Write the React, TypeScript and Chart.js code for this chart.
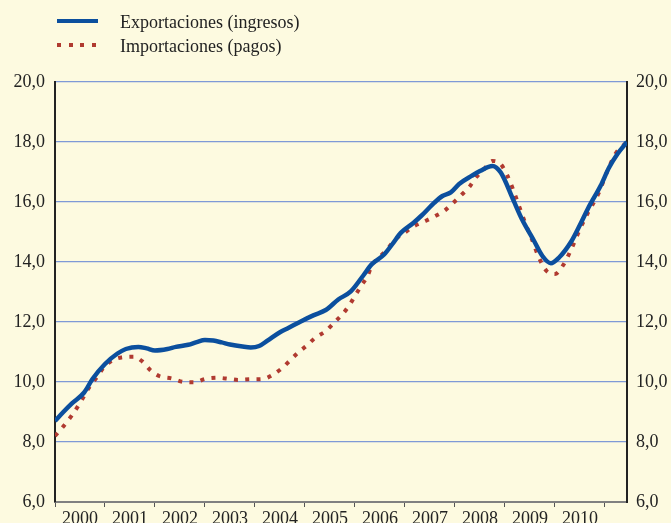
import React, { useEffect, useRef } from "react";
import { Chart, registerables } from "chart.js";

Chart.register(...registerables);

const yearLabels = ["2000", "2001", "2002", "2003", "2004", "2005", "2006", "2007", "2008", "2009", "2010"];
const yTicks = [6, 8, 10, 12, 14, 16, 18, 20];

// months since Jan 2000
const exportMonths = [0, 2, 4, 7, 9, 12, 15, 17, 20, 22, 24, 27, 29, 32, 34, 36, 38, 40, 42, 45, 47, 49, 51, 54, 56, 59, 62, 65, 68, 71, 74, 76, 79, 81, 83, 86, 88, 91, 93, 95, 97, 100, 102, 105, 107, 110, 112, 115, 117, 119, 121, 124, 126, 128, 131, 133, 135, 137.3];
const exportValues = [8.7, 9.0, 9.28, 9.65, 10.1, 10.6, 10.95, 11.1, 11.17, 11.12, 11.05, 11.1, 11.17, 11.24, 11.33, 11.4, 11.38, 11.32, 11.25, 11.18, 11.15, 11.2, 11.38, 11.66, 11.8, 12.02, 12.22, 12.4, 12.75, 13.02, 13.55, 13.92, 14.25, 14.6, 14.97, 15.3, 15.55, 15.97, 16.2, 16.32, 16.6, 16.87, 17.03, 17.2, 16.98, 16.07, 15.45, 14.7, 14.2, 13.96, 14.15, 14.7, 15.23, 15.8, 16.55, 17.15, 17.6, 18.0];

const importMonths = [0, 2, 4, 6, 8, 10, 11.5, 13.5, 16, 19, 21, 23, 25, 28, 31, 33.5, 36, 39, 42, 44, 47, 50, 52, 54.5, 56.5, 58.5, 60.5, 62.5, 65, 67, 69, 70.5, 72, 73.5, 75, 76, 78, 80, 81.5, 84, 86, 88.5, 91, 93.5, 95.5, 97.5, 99.5, 101, 103, 105, 107, 108.5, 110, 111.5, 113, 114.5, 116, 118, 120, 122, 124, 126, 128, 130.5, 132.5, 134.5, 137.3];
const importValues = [8.2, 8.52, 8.88, 9.3, 9.78, 10.15, 10.45, 10.7, 10.82, 10.84, 10.68, 10.38, 10.2, 10.12, 10.0, 9.99, 10.1, 10.14, 10.1, 10.07, 10.09, 10.1, 10.22, 10.46, 10.73, 11.0, 11.22, 11.48, 11.7, 11.98, 12.26, 12.53, 12.87, 13.21, 13.53, 13.87, 14.18, 14.46, 14.73, 14.98, 15.18, 15.34, 15.51, 15.71, 15.96, 16.23, 16.51, 16.81, 17.1, 17.37, 17.26, 16.9, 16.4, 15.82, 15.25, 14.75, 14.2, 13.7, 13.6, 13.9, 14.45, 15.1, 15.66, 16.3, 17.0, 17.6, 18.0];

const seriesNames = ["Exportaciones (ingresos)", "Importaciones (pagos)"];

const BG = "#fdfae0";
const BLUE = "#0b4f9e";
const RED = "#b03a30";
const FONT = "'Liberation Serif', 'Times New Roman', serif";

export default function App() {
  const canvasRef = useRef<HTMLCanvasElement | null>(null);

  useEffect(() => {
    if (!canvasRef.current) return;
    const fontSpec = { family: FONT, size: 18 };
    const fmt = (v: any) => Number(v).toFixed(1).replace(".", ",");
    const chart = new Chart(canvasRef.current, {
      type: "line",
      data: {
        datasets: [
          {
            label: seriesNames[0],
            data: exportMonths.map((m, i) => ({ x: m, y: exportValues[i] })),
            borderColor: BLUE,
            borderWidth: 4.5,
            pointRadius: 0,
            cubicInterpolationMode: "monotone",
            fill: false,
          },
          {
            label: seriesNames[1],
            data: importMonths.map((m, i) => ({ x: m, y: importValues[i] })),
            borderColor: RED,
            borderWidth: 4,
            borderDash: [4, 7.3],
            borderCapStyle: "butt",
            pointRadius: 0,
            cubicInterpolationMode: "monotone",
            fill: false,
          },
        ],
      },
      options: {
        responsive: false,
        animation: false,
        layout: { padding: { top: 82, left: 0, right: 0, bottom: 0 } },
        plugins: { legend: { display: false }, tooltip: { enabled: false } },
        scales: {
          x: {
            type: "linear",
            min: 0,
            max: 137.3,
            afterBuildTicks: (s: any) => {
              const t = yearLabels.map((_, i) => ({ value: i * 12 }));
              t.push({ value: 132 });
              s.ticks = t;
            },
            afterFit: (s: any) => {
              s.height = 21;
            },
            ticks: {
              autoSkip: false,
              maxRotation: 0,
              minRotation: 0,
              labelOffset: 25,
              padding: 1,
              color: "#222",
              font: fontSpec,
              callback: (v: any) => yearLabels[Math.round(Number(v) / 12)] ?? "",
            },
            grid: { drawOnChartArea: false, drawTicks: true, tickLength: 5, color: "#555", lineWidth: 1 },
            border: { display: true, color: "#808080", width: 2 },
          },
          y: {
            position: "left",
            min: 6,
            max: 20,
            afterBuildTicks: (s: any) => {
              s.ticks = yTicks.map((v) => ({ value: v }));
            },
            afterFit: (s: any) => {
              s.width = 55;
            },
            ticks: { padding: 10, color: "#222", font: fontSpec, callback: fmt },
            grid: { color: "#7f99d6", lineWidth: 1.2, drawTicks: false },
            border: { display: true, color: "#222", width: 2 },
          },
          y2: {
            position: "right",
            min: 6,
            max: 20,
            afterBuildTicks: (s: any) => {
              s.ticks = yTicks.map((v) => ({ value: v }));
            },
            afterFit: (s: any) => {
              s.width = 44;
            },
            ticks: { padding: 9, color: "#222", font: fontSpec, callback: fmt },
            grid: { display: false, drawTicks: false },
            border: { display: true, color: "#222", width: 2 },
          },
        },
      },
    } as any);
    return () => chart.destroy();
  }, []);

  const textStyle: React.CSSProperties = {
    position: "absolute",
    left: 120,
    fontFamily: FONT,
    fontSize: 18,
    lineHeight: "20px",
    color: "#222",
    whiteSpace: "nowrap",
  };

  return (
    <div style={{ position: "absolute", left: 0, top: 0, width: 671, height: 523, background: BG, overflow: "hidden" }}>
      <canvas ref={canvasRef} width={671} height={523} style={{ position: "absolute", left: 0, top: 0, width: 671, height: 523 }} />
      <div style={{ position: "absolute", left: 57, top: 19, width: 41, height: 4, background: BLUE }} />
      <div style={{ ...textStyle, top: 12 }}>{seriesNames[0]}</div>
      {[57, 68.5, 80, 91.5].map((x) => (
        <div key={x} style={{ position: "absolute", left: x, top: 43, width: 4, height: 4, background: RED }} />
      ))}
      <div style={{ ...textStyle, top: 36 }}>{seriesNames[1]}</div>
    </div>
  );
}
